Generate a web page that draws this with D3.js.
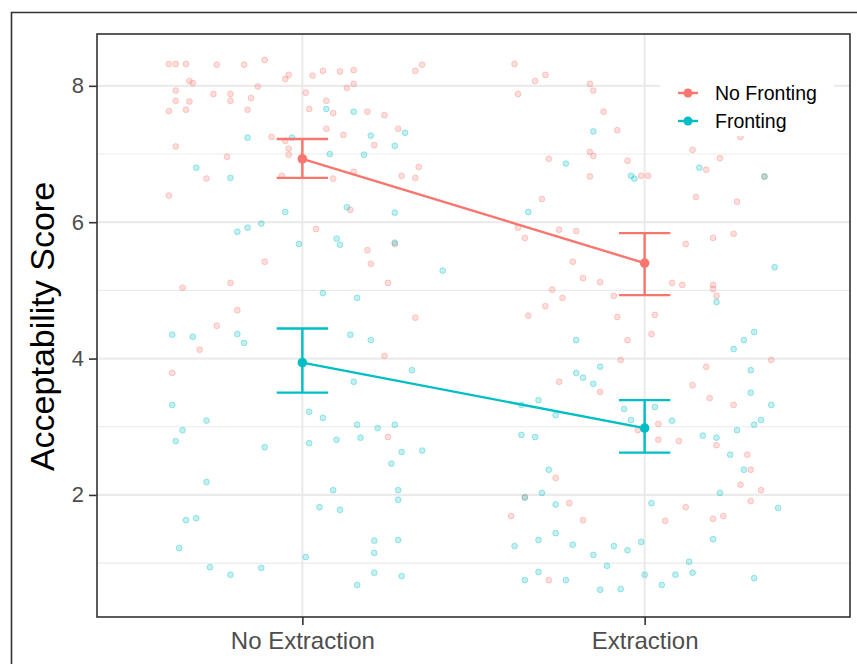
<!DOCTYPE html>
<html>
<head>
<meta charset="utf-8">
<title>Acceptability Score</title>
<script src="https://d3js.org/d3.v7.min.js"></script>
<style>
  body { margin: 0; background: #fff; }
  text { font-family: "Liberation Sans", Arial, sans-serif; }
</style>
</head>
<body>
<svg width="857" height="664"></svg>
<script>
// categories and groups
var categories = ["No Extraction", "Extraction"];
var groups = ["No Fronting", "Fronting"];
var groupColors = ["#F8766D", "#00BFC4"];
var yTicks = [2, 4, 6, 8];

// condition means and error bar ends (No Extraction, Extraction)
var meanNoFronting = [6.93, 5.40];
var lowNoFronting  = [6.65, 4.93];
var highNoFronting = [7.22, 5.84];
var meanFronting = [3.94, 2.98];
var lowFronting  = [3.50, 2.62];
var highFronting = [4.44, 3.39];

// raw ratings: [jitter, score]
var noFrontNoExtr = [
  [-0.39,8.32],[-0.37,8.32],[-0.34,8.32],[-0.25,8.31],[-0.17,8.31],[-0.11,8.38],[-0.33,8.07],[-0.32,8.04],
  [-0.05,8.10],[-0.04,8.16],[-0.37,7.93],[-0.26,7.88],[-0.21,7.88],[-0.13,7.99],[-0.37,7.78],[-0.33,7.77],
  [-0.21,7.78],[-0.15,7.82],[-0.39,7.63],[-0.34,7.65],[-0.16,7.65],[-0.09,7.25],[-0.05,7.19],[-0.04,7.08],
  [-0.04,6.99],[-0.37,7.11],[-0.22,6.96],[-0.28,6.64],[-0.06,6.68],[-0.39,6.39],[0.03,8.15],[0.06,8.22],
  [0.11,8.21],[0.15,8.23],[0.33,8.22],[0.35,8.31],[0.13,7.97],[0.15,8.03],[0.01,7.90],[0.07,7.78],
  [0.02,7.66],[0.09,7.60],[0.19,7.62],[0.24,7.57],[0.07,7.37],[0.12,7.28],[0.28,7.37],[0.21,7.13],
  [0.34,6.81],[0.29,6.68],[0.33,6.65],[0.09,6.64],[0.15,6.74],[0.04,5.90],[0.19,5.59],[0.20,5.39],
  [0.25,5.11],[-0.35,5.04],[-0.21,5.11],[-0.19,4.71],[-0.25,4.48],[-0.30,4.13],[-0.38,3.79],[0.33,4.60],
  [0.24,4.04],[0.25,2.85],[-0.11,5.42],[0.14,6.18],[0.27,5.68]
];
var frontNoExtr = [
  [-0.16,7.24],[-0.03,7.24],[-0.31,6.80],[-0.21,6.65],[0.07,7.66],[0.15,7.62],[0.30,7.31],[0.20,7.27],
  [0.27,7.12],[0.08,7.00],[0.18,6.99],[-0.19,5.86],[-0.16,5.92],[-0.12,5.98],[-0.05,6.15],[-0.01,5.68],
  [0.10,5.76],[0.11,5.67],[0.13,6.22],[0.27,6.14],[0.27,5.70],[0.41,5.29],[0.06,4.96],[0.16,4.89],
  [-0.38,4.35],[-0.32,4.32],[-0.19,4.36],[-0.17,4.23],[0.14,4.35],[0.20,4.27],[0.15,3.66],[0.32,3.83],
  [-0.38,3.32],[-0.35,2.95],[-0.37,2.79],[-0.28,3.09],[-0.11,2.70],[0.02,3.22],[0.06,3.13],[0.02,2.76],
  [0.10,2.81],[0.16,3.03],[0.17,2.84],[0.22,2.98],[0.27,3.03],[0.29,2.63],[0.35,2.65],[0.26,2.46],
  [-0.28,2.19],[0.09,2.07],[0.28,2.07],[0.05,1.82],[0.11,1.78],[0.28,1.93],[-0.34,1.63],[-0.31,1.66],
  [-0.36,1.22],[0.21,1.33],[0.28,1.34],[-0.27,0.94],[-0.21,0.83],[-0.12,0.93],[0.01,1.09],[0.16,0.68],
  [0.21,0.86],[0.29,0.81],[0.21,1.15]
];
var noFrontExtr = [
  [-0.38,8.32],[-0.32,8.07],[-0.29,8.16],[-0.37,7.88],[-0.16,8.03],[-0.15,7.93],[-0.12,7.62],[-0.08,7.35],
  [-0.16,7.03],[-0.15,6.97],[-0.28,6.93],[-0.05,6.90],[-0.16,6.67],[-0.01,6.68],[0.01,6.68],[-0.30,6.34],
  [-0.37,5.92],[-0.35,5.77],[-0.25,5.89],[-0.20,5.87],[0.18,6.77],[0.35,6.67],[0.15,6.37],[0.27,6.30],
  [0.26,5.83],[0.20,5.77],[0.12,5.68],[0.08,5.11],[0.11,5.08],[0.20,5.08],[0.20,5.02],[0.21,4.92],
  [0.03,4.64],[0.02,4.36],[0.12,1.82],[0.31,1.91],[0.06,1.62],[0.20,1.65],[0.23,1.69],[-0.34,4.63],
  [-0.29,4.77],[-0.24,4.89],[-0.27,5.01],[-0.21,5.42],[-0.18,5.18],[-0.13,5.12],[-0.09,4.92],[-0.08,4.61],
  [-0.05,4.27],[-0.07,3.98],[-0.25,3.66],[-0.13,3.51],[0.04,3.04],[0.04,2.81],[0.14,3.61],[0.18,3.88],
  [0.19,3.42],[0.26,3.32],[0.30,2.59],[0.31,2.37],[0.34,2.07],[-0.35,1.97],[-0.26,2.25],[-0.39,1.69],
  [-0.22,1.88],[-0.18,1.63],[-0.28,0.75],[0.28,2.15],[0.21,2.73],[0.37,3.98],[0.10,2.79],[-0.02,2.95],
  [0.17,7.35],[0.28,7.25],[0.14,7.06],[0.22,6.94]
];
var frontExtr = [
  [-0.15,7.33],[-0.23,6.86],[-0.04,6.68],[-0.03,6.64],[-0.34,6.15],[0.16,6.80],[0.35,6.67],[0.38,5.34],
  [0.21,4.83],[0.32,4.39],[0.29,4.27],[0.26,4.14],[0.02,1.88],[0.39,1.81],[0.20,1.35],[-0.09,1.25],
  [-0.05,1.19],[-0.01,1.31],[-0.11,0.96],[0.13,1.02],[0.00,0.83],[0.09,0.83],[0.14,0.86],[0.32,0.78],
  [0.05,0.68],[-0.07,0.62],[-0.36,2.88],[-0.32,2.85],[-0.26,3.17],[-0.31,3.39],[-0.20,3.79],[-0.18,3.72],
  [-0.15,3.63],[-0.13,3.88],[-0.20,4.27],[-0.36,3.32],[-0.06,3.26],[-0.04,3.10],[0.03,3.29],[0.08,3.09],
  [0.17,2.87],[0.21,2.84],[0.27,2.95],[0.32,3.03],[0.34,3.10],[0.37,3.32],[0.25,2.59],[0.29,2.37],
  [0.22,2.03],[-0.28,2.37],[-0.30,2.03],[-0.35,1.96],[-0.26,1.86],[-0.38,1.25],[-0.31,1.34],[-0.26,1.44],
  [-0.21,1.27],[-0.15,1.12],[-0.35,0.75],[-0.31,0.87],[-0.23,0.75],[-0.13,0.61],[0.31,3.83],[0.31,3.50]
];

var svg = d3.select("svg");
var pLeft = 97, pRight = 850, pTop = 34, pBottom = 617;

// frame round the whole figure (cropped at right and bottom)
svg.append("path")
    .attr("d", "M11.5,664 V12.5 H857")
    .attr("fill", "none")
    .attr("stroke", "#333")
    .attr("stroke-width", 1.6);

var x = d3.scalePoint().domain(categories).range([pLeft, pRight]).padding(0.6);
var y = d3.scaleLinear().domain([0.21, 8.76]).range([pBottom, pTop]);

var grid = svg.append("g");
// minor grid
grid.selectAll(".minor").data([1, 3, 5, 7]).enter().append("line")
    .attr("x1", pLeft).attr("x2", pRight)
    .attr("y1", function(d) { return y(d); }).attr("y2", function(d) { return y(d); })
    .attr("stroke", "#ebebeb").attr("stroke-width", 1.1);
// major grid
grid.selectAll(".majorY").data(yTicks).enter().append("line")
    .attr("x1", pLeft).attr("x2", pRight)
    .attr("y1", function(d) { return y(d); }).attr("y2", function(d) { return y(d); })
    .attr("stroke", "#ebebeb").attr("stroke-width", 2.2);
grid.selectAll(".majorX").data(categories).enter().append("line")
    .attr("y1", pTop).attr("y2", pBottom)
    .attr("x1", function(d) { return x(d); }).attr("x2", function(d) { return x(d); })
    .attr("stroke", "#ebebeb").attr("stroke-width", 2.2);

// jittered raw points
var rawSets = [
  [noFrontNoExtr, 0, 0], [frontNoExtr, 0, 1],
  [noFrontExtr, 1, 0], [frontExtr, 1, 1]
];
rawSets.forEach(function(s) {
  svg.append("g").selectAll("circle")
    .data(s[0]).enter().append("circle")
      .attr("cx", function(d) { return x(categories[s[1]]) + d[0] * x.step(); })
      .attr("cy", function(d) { return y(d[1]); })
      .attr("r", 2.9)
      .attr("fill", groupColors[s[2]])
      .attr("fill-opacity", 0.24)
      .attr("stroke", groupColors[s[2]])
      .attr("stroke-opacity", 0.34)
      .attr("stroke-width", 1);
});

// means, lines, error bars
var summary = [
  { mean: meanNoFronting, low: lowNoFronting, high: highNoFronting, color: groupColors[0] },
  { mean: meanFronting, low: lowFronting, high: highFronting, color: groupColors[1] }
];
var half = 0.075 * x.step();
summary.forEach(function(s) {
  var line = d3.line()
      .x(function(d, i) { return x(categories[i]); })
      .y(function(d) { return y(d); });
  svg.append("path").datum(s.mean)
      .attr("d", line).attr("fill", "none")
      .attr("stroke", s.color).attr("stroke-width", 2.4);

  var eb = svg.append("g").attr("stroke", s.color).attr("stroke-width", 2.4).attr("fill", "none");
  categories.forEach(function(c, i) {
    var cx = x(c);
    eb.append("path")
      .attr("d", "M" + (cx - half) + "," + y(s.high[i]) + "H" + (cx + half) +
                 "M" + cx + "," + y(s.high[i]) + "V" + y(s.low[i]) +
                 "M" + (cx - half) + "," + y(s.low[i]) + "H" + (cx + half));
  });
  svg.append("g").selectAll("circle").data(s.mean).enter().append("circle")
      .attr("cx", function(d, i) { return x(categories[i]); })
      .attr("cy", function(d) { return y(d); })
      .attr("r", 4.8)
      .attr("fill", s.color);
});

// panel border
svg.append("rect")
    .attr("x", pLeft).attr("y", pTop)
    .attr("width", pRight - pLeft).attr("height", pBottom - pTop)
    .attr("fill", "none").attr("stroke", "#333").attr("stroke-width", 1.6);

// axes
var yAxis = svg.append("g")
    .attr("transform", "translate(" + pLeft + ",0)")
    .call(d3.axisLeft(y).tickValues(yTicks).tickSize(8).tickPadding(5));
var xAxis = svg.append("g")
    .attr("transform", "translate(0," + pBottom + ")")
    .call(d3.axisBottom(x).tickSize(8).tickPadding(7));
[yAxis, xAxis].forEach(function(a) {
  a.select(".domain").remove();
  a.selectAll(".tick line").attr("stroke", "#333").attr("stroke-width", 1.6);
  a.selectAll(".tick text").attr("fill", "#4d4d4d")
    .style("font-family", "'Liberation Sans', Arial, sans-serif");
});
yAxis.selectAll(".tick text").style("font-size", "22px");
xAxis.selectAll(".tick text").style("font-size", "24px");

svg.append("text")
    .attr("transform", "translate(54," + ((pTop + pBottom) / 2 + 1) + ") rotate(-90)")
    .attr("text-anchor", "middle")
    .attr("fill", "#000")
    .style("font-size", "34px")
    .text("Acceptability Score");

// legend
var legend = svg.append("g").attr("transform", "translate(660,76)");
legend.append("rect").attr("width", 174).attr("height", 60).attr("fill", "#fff");
groups.forEach(function(g, i) {
  var row = legend.append("g").attr("transform", "translate(0," + (17 + i * 28) + ")");
  row.append("line").attr("x1", 18).attr("x2", 38)
     .attr("stroke", groupColors[i]).attr("stroke-width", 2.4);
  row.append("circle").attr("cx", 28).attr("r", 4.5).attr("fill", groupColors[i]);
  row.append("text").attr("x", 55).attr("dy", "0.35em")
     .attr("fill", "#000").style("font-size", "19.5px").text(g);
});
</script>
</body>
</html>
